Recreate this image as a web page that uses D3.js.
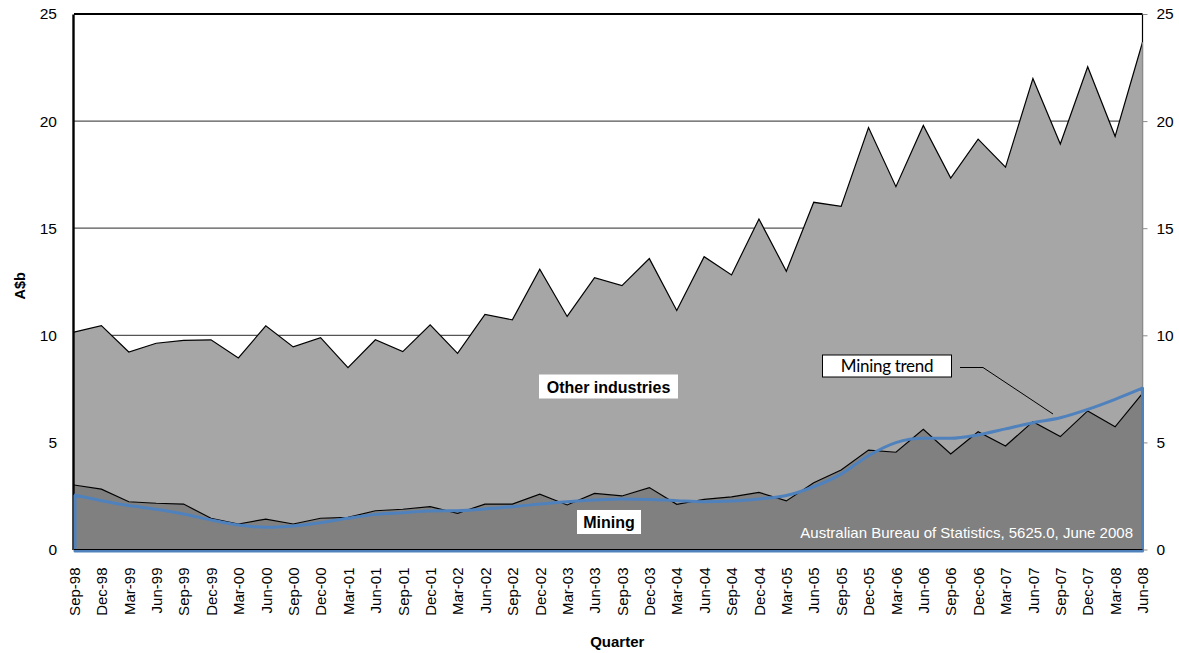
<!DOCTYPE html>
<meta charset="utf-8">
<style>
  body { margin: 0; background: #fff; }
  text { font-family: "Liberation Sans", Arial, sans-serif; }
</style>
<body>
<script src="https://d3js.org/d3.v7.min.js"></script>
<script>

// Quarterly values, A$ billion
var quarters = ["Sep-98","Dec-98","Mar-99","Jun-99","Sep-99","Dec-99","Mar-00","Jun-00","Sep-00","Dec-00",
  "Mar-01","Jun-01","Sep-01","Dec-01","Mar-02","Jun-02","Sep-02","Dec-02","Mar-03","Jun-03",
  "Sep-03","Dec-03","Mar-04","Jun-04","Sep-04","Dec-04","Mar-05","Jun-05","Sep-05","Dec-05",
  "Mar-06","Jun-06","Sep-06","Dec-06","Mar-07","Jun-07","Sep-07","Dec-07","Mar-08","Jun-08"];

var mining = [3.01,2.82,2.23,2.16,2.12,1.46,1.19,1.42,1.19,1.46,
  1.50,1.81,1.88,2.00,1.69,2.12,2.12,2.58,2.08,2.62,
  2.50,2.89,2.11,2.34,2.46,2.67,2.27,3.12,3.71,4.64,
  4.54,5.61,4.46,5.50,4.83,5.97,5.27,6.47,5.73,7.29];

var otherIndustries = [7.14,7.63,6.99,7.47,7.64,8.33,7.75,9.02,8.27,8.43,
  6.99,7.98,7.36,8.49,7.47,8.86,8.60,10.51,8.80,10.07,
  9.82,10.69,9.05,11.33,10.36,12.76,10.72,13.09,12.31,15.06,
  12.40,14.19,12.88,13.66,13.02,16.02,13.66,16.07,13.56,16.39];

var miningTrend = [2.54,2.28,2.05,1.88,1.66,1.38,1.14,1.04,1.10,1.25,
  1.46,1.64,1.72,1.80,1.81,1.89,2.00,2.12,2.23,2.31,
  2.36,2.34,2.28,2.23,2.26,2.36,2.52,2.93,3.52,4.38,
  4.99,5.19,5.19,5.35,5.63,5.92,6.15,6.54,7.01,7.53];

var yTicks = [0, 5, 10, 15, 20, 25];

var W = 1179, H = 653;
var plotL = 74, plotR = 1142.5, plotT = 14, plotB = 549.5;

var svg = d3.select("body").append("svg")
    .attr("width", W)
    .attr("height", H);

var x = d3.scalePoint().domain(quarters).range([plotL, plotR]);
var y = d3.scaleLinear().domain([0, 25]).range([plotB, plotT]);

var rows = quarters.map(function(q, i) {
  return {q: q, mining: mining[i], other: otherIndustries[i], trend: miningTrend[i]};
});

// gridlines
svg.append("g").selectAll("line")
    .data(yTicks.filter(function(d) { return d > 0 && d < 25; }))
  .enter().append("line")
    .attr("x1", plotL).attr("x2", plotR)
    .attr("y1", function(d) { return y(d); })
    .attr("y2", function(d) { return y(d); })
    .attr("stroke", "#555")
    .attr("stroke-width", 1.2);

// plot frame top / right
svg.append("line").attr("x1", plotL).attr("x2", plotR).attr("y1", plotT).attr("y2", plotT)
    .attr("stroke", "#000").attr("stroke-width", 2.2);
svg.append("line").attr("x1", plotR).attr("x2", plotR).attr("y1", plotT).attr("y2", plotB)
    .attr("stroke", "#000").attr("stroke-width", 1.2);

// stacked areas
var stack = d3.stack().keys(["mining", "other"]);
var series = stack(rows);
var fills = {mining: "#808080", other: "#a6a6a6"};

var area = d3.area()
    .x(function(d) { return x(d.data.q); })
    .y0(function(d) { return y(d[0]); })
    .y1(function(d) { return y(d[1]); });

var topLine = d3.line()
    .x(function(d) { return x(d.data.q); })
    .y(function(d) { return y(d[1]); });

svg.append("g").selectAll("path")
    .data(series.slice().reverse())
  .enter().append("path")
    .attr("d", area)
    .attr("fill", function(d) { return fills[d.key]; });

svg.append("g").selectAll("path")
    .data(series)
  .enter().append("path")
    .attr("d", topLine)
    .attr("fill", "none")
    .attr("stroke", "#000")
    .attr("stroke-width", 1.2);

// right axis
var lastTop = series[1][series[1].length - 1][1];
svg.append("line").attr("x1", plotR).attr("x2", plotR).attr("y1", y(lastTop)).attr("y2", plotB)
    .attr("stroke", "#8a8a8a").attr("stroke-width", 1.2);
var rAxis = svg.append("g")
    .attr("transform", "translate(" + plotR + ",0)")
    .call(d3.axisRight(y).tickValues(yTicks).tickSize(5).tickPadding(9));
rAxis.select(".domain").remove();
rAxis.selectAll("line").attr("stroke", "#8a8a8a");
rAxis.selectAll("text").style("font-size", "15.5px").attr("fill", "#000");

// left axis + baseline
svg.append("line").attr("x1", plotL).attr("x2", plotR).attr("y1", plotB).attr("y2", plotB)
    .attr("stroke", "#000").attr("stroke-width", 1.2);
var lAxis = svg.append("g")
    .attr("transform", "translate(" + plotL + ",0)")
    .call(d3.axisLeft(y).tickValues(yTicks).tickSize(0).tickPadding(17));
lAxis.select(".domain").attr("stroke", "#000").attr("stroke-width", 2.4)
    .attr("transform", "translate(-1,0)");
lAxis.selectAll("text").style("font-size", "15.5px").attr("fill", "#000");

// trend: Excel area outline with no fill
var trendPath = d3.line()
    .x(function(d) { return x(d.q); })
    .y(function(d) { return y(d.trend); })
    .curve(d3.curveMonotoneX);
var tp = trendPath(rows);
svg.append("path")
    .attr("d", tp + "L" + plotR + "," + (y(0) + 1.5) + "L" + (plotL + 1) + "," + (y(0) + 1.5) + "L" + (plotL + 1) + "," + y(miningTrend[0]))
    .attr("fill", "none")
    .attr("stroke", "#4f81bd")
    .attr("stroke-width", 3)
    .attr("stroke-linejoin", "round");
svg.append("line").attr("x1", plotL).attr("x2", plotR).attr("y1", plotB).attr("y2", plotB)
    .attr("stroke", "#000").attr("stroke-width", 1.2);

// x axis labels
var xAxis = svg.append("g")
    .attr("transform", "translate(0," + plotB + ")")
    .call(d3.axisBottom(x).tickSize(0));
xAxis.select(".domain").remove();
xAxis.selectAll("text")
    .attr("transform", "rotate(-90)")
    .attr("x", -18)
    .attr("y", 0)
    .attr("dy", "0.35em")
    .style("text-anchor", "end")
    .style("font-size", "15px")
    .attr("fill", "#000");

// axis titles
svg.append("text")
    .attr("transform", "translate(25," + ((plotT + plotB) / 2 + 4) + ") rotate(-90)")
    .attr("text-anchor", "middle")
    .style("font-size", "14.5px")
    .style("font-weight", "bold")
    .text("A$b");

svg.append("text")
    .attr("x", (plotL + plotR) / 2 + 9)
    .attr("y", 647)
    .attr("text-anchor", "middle")
    .style("font-size", "15px")
    .style("font-weight", "bold")
    .text("Quarter");

// series labels
function boxLabel(cx, cy, w, h, label, size) {
  svg.append("rect").attr("x", cx - w / 2).attr("y", cy - h / 2).attr("width", w).attr("height", h)
      .attr("fill", "#fff");
  svg.append("text").attr("x", cx).attr("y", cy + 6).attr("text-anchor", "middle")
      .style("font-size", size).style("font-weight", "bold").text(label);
}
boxLabel(608.5, 386.5, 139, 24, "Other industries", "16px");
boxLabel(609, 522, 64, 24, "Mining", "16px");

// mining trend callout
svg.append("polyline")
    .attr("points", "960,367.5 983,367.5 1053,414")
    .attr("fill", "none")
    .attr("stroke", "#000")
    .attr("stroke-width", 1);
svg.append("rect").attr("x", 822.5).attr("y", 355).attr("width", 129).attr("height", 22)
    .attr("fill", "#fff").attr("stroke", "#000").attr("stroke-width", 1);
svg.append("text").attr("x", 887).attr("y", 372)
    .attr("text-anchor", "middle")
    .style("font-family", "Lato, 'Open Sans', sans-serif")
    .style("font-size", "17px")
    .style("letter-spacing", "-0.3px")
    .text("Mining trend");

// source note
svg.append("text")
    .attr("x", 1133).attr("y", 538)
    .attr("text-anchor", "end")
    .attr("fill", "#fff")
    .style("font-size", "15px")
    .text("Australian Bureau of Statistics, 5625.0, June 2008");

</script>
</body>
